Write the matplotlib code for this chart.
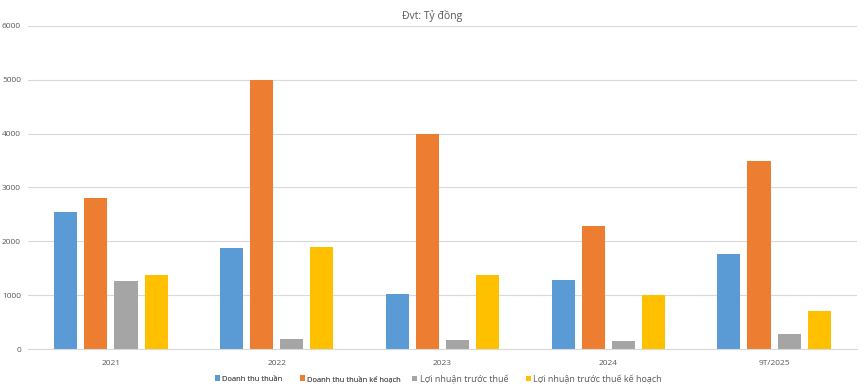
import matplotlib
matplotlib.use("Agg")
import matplotlib.pyplot as plt
import numpy as np

plt.rcParams["font.family"] = ["Open Sans", "DejaVu Sans"]

categories = ["2021", "2022", "2023", "2024", "9T/2025"]
series_names = [
    "Doanh thu thuần",
    "Doanh thu thuần kế hoạch",
    "Lợi nhuận trước thuế",
    "Lợi nhuận trước thuế kế hoạch",
]
revenue = [2550, 1880, 1020, 1290, 1770]
revenue_plan = [2800, 5000, 4000, 2290, 3500]
profit = [1270, 190, 160, 140, 270]
profit_plan = [1380, 1900, 1380, 1000, 710]
colors = ["#5B9BD5", "#ED7D31", "#A5A5A5", "#FFC000"]

fig = plt.figure(figsize=(8.64, 3.92), dpi=100)
ax = fig.add_axes([28 / 864, 43 / 392, 829 / 864, 323 / 392])

x = np.arange(len(categories))
step = 0.182
width = 0.139
bars = []
for i, (vals, c, name) in enumerate(zip([revenue, revenue_plan, profit, profit_plan], colors, series_names)):
    bars.append(ax.bar(x + (i - 1.5) * step, vals, width=width, color=c, label=name, zorder=2))

ax.set_xlim(-0.5, len(categories) - 0.5)
ax.set_ylim(0, 6000)
ax.set_yticks(range(0, 6001, 1000))
ax.set_xticks(x)
ax.set_xticklabels(categories)
ax.grid(axis="y", color="#D9D9D9", lw=0.8, zorder=0)
for s in ax.spines.values():
    s.set_visible(False)
ax.spines["bottom"].set_visible(True)
ax.spines["bottom"].set_color("#D9D9D9")
ax.tick_params(axis="both", length=0, labelsize=6, colors="#595959")
ax.tick_params(axis="y", pad=5)
ax.tick_params(axis="x", pad=8)

fig.text(0.5, 0.975, "Đvt: Tỷ đồng", ha="center", va="top", fontsize=7.5, color="#595959")

# the original legend uses a smaller font for the revenue pair, so split it in two
leg_kw = dict(ncol=2, frameon=False, borderpad=0, handletextpad=0.3, labelcolor="#595959")
leg1 = fig.legend(bars[:2], series_names[:2], loc="center right", bbox_to_anchor=(0.468, 0.033),
                  fontsize=5.4, handlelength=0.65, handleheight=0.65, columnspacing=2.3, **leg_kw)
fig.add_artist(leg1)
leg2 = fig.legend(bars[2:], series_names[2:], loc="center left", bbox_to_anchor=(0.472, 0.033),
                  fontsize=6.5, handlelength=0.55, handleheight=0.55, columnspacing=1.9, **leg_kw)

fig.savefig("out.png", dpi=100)
